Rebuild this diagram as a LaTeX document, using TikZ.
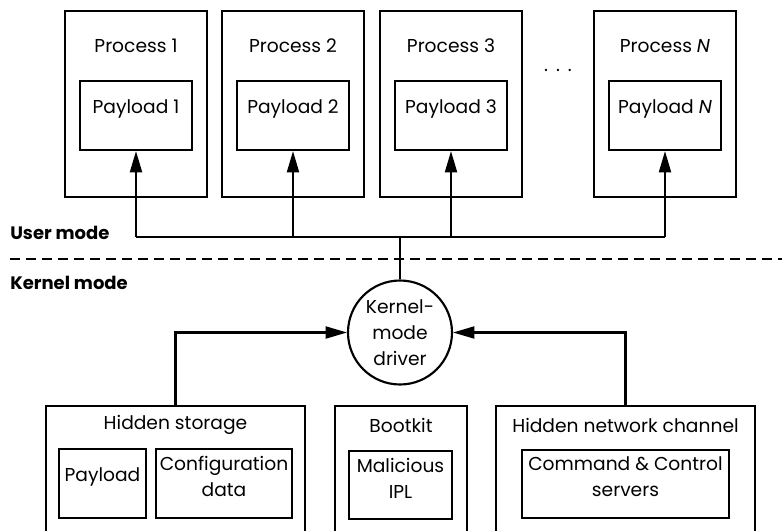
\documentclass[tikz,border=0pt]{standalone}
\usepackage{fontspec}
\setmainfont{Poppins}
\usetikzlibrary{arrows.meta,fit,calc}
\begin{document}
\begin{tikzpicture}[x=0.75pt,y=-0.75pt,
  box/.style={draw, line width=1.6pt, inner sep=0pt, rectangle, font=\fontsize{14}{19.5}\selectfont, align=center},
  thickbox/.style={box, line width=2.1pt},
  lbl/.style={font=\fontsize{14}{19.5}\selectfont, inner sep=0pt, align=center},
  modelbl/.style={font=\fontsize{13.5}{15}\selectfont\bfseries, inner sep=0pt, anchor=west},
  arr/.style={line width=1.6pt, -{Triangle[length=16pt,width=9pt]}},
  wire/.style={line width=1.6pt},
  sep/.style={line width=1.6pt, dash pattern=on 7.5pt off 4.5pt}]
\useasboundingbox (0,0) rectangle (782,531);
\clip (0,0) rectangle (782,531);

% processes
\node[box, fit={(65,11) (207,197)}] (P1) {};
\node[box, fit={(222,11) (364,197)}] (P2) {};
\node[box, fit={(380,11) (522,197)}] (P3) {};
\node[box, fit={(594,11) (736,197)}] (PN) {};
\node[lbl] (t1) at (136,46) {Process 1};
\node[lbl] (t2) at (293,46) {Process 2};
\node[lbl] (t3) at (451,46) {Process 3};
\node[lbl] (tN) at (665,46) {Process \textit{N}};
\node[box, fit={(80,81) (192,150)}] (pl1) {Payload 1};
\node[box, fit={(237,81) (349,150)}] (pl2) {Payload 2};
\node[box, fit={(395,81) (507,150)}] (pl3) {Payload 3};
\node[box, fit={(609,81) (721,150)}] (plN) {Payload \textit{N}};
\node[lbl] (dots) at (558,70) {.\hspace{6pt}.\hspace{6pt}.};

% mode separator
\node[modelbl] (um) at (10,233) {User mode};
\node[modelbl] (km) at (10,283) {Kernel mode};
\coordinate (dl) at (10,259);
\coordinate (dr) at (782,259);
\draw[sep] (dl) -- (dr);

% driver
\node[circle, draw, line width=1.6pt, minimum size=78pt, inner sep=0pt, lbl] (D) at (400,332.5) {Kernel-\\mode\\driver};
\coordinate (bus) at (400,237);
\draw[wire] (D.north) -- (bus);
\draw[wire] (pl1.south |- bus) -- (plN.south |- bus);
\foreach \n in {1,2,3,N} \draw[arr] (pl\n.south |- bus) -- (pl\n.south);

% bottom boxes
\node[box, fit={(46,406) (305,560)}] (HS) {};
\node[box, fit={(335,406) (467,560)}] (BK) {};
\node[box, fit={(496,406) (755,560)}] (HN) {};
\node[lbl] (ths) at (175.5,425) {Hidden storage};
\node[lbl] (tbk) at (401,425) {Bootkit};
\node[lbl] (thn) at (625.5,425) {Hidden network channel};
\node[thickbox, fit={(59,449) (146,518)}] (PL) {Payload};
\node[box, fit={(156,449) (292,518)}] (CD) {Configuration\\data};
\node[box, fit={(349,451) (452,519)}] (MI) {Malicious\\IPL};
\node[box, fit={(522,450) (729,518)}] (CC) {Command \& Control\\servers};

\draw[arr] (HS.north) |- (D.west);
\draw[arr] (HN.north) |- (D.east);
\end{tikzpicture}
\end{document}
